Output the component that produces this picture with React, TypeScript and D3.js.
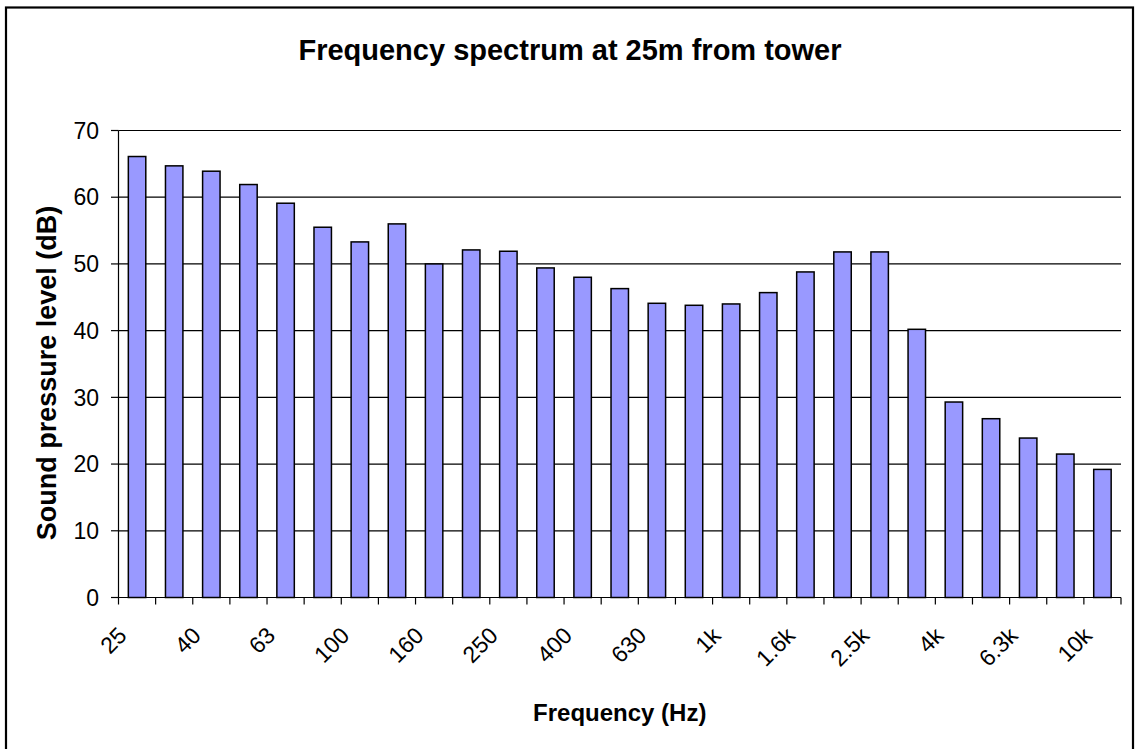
import * as d3 from "d3";

const bands = ["25", "31.5", "40", "50", "63", "80", "100", "125", "160", "200", "250", "315", "400", "500", "630", "800", "1k", "1.25k", "1.6k", "2k", "2.5k", "3.15k", "4k", "5k", "6.3k", "8k", "10k"];
const levels = [66.1, 64.7, 63.9, 61.9, 59.1, 55.5, 53.3, 56.0, 50.0, 52.1, 51.9, 49.4, 48.0, 46.3, 44.1, 43.8, 44.0, 45.7, 48.8, 51.8, 51.8, 40.2, 29.3, 26.8, 23.9, 21.5, 19.2];
const yTicks = [0, 10, 20, 30, 40, 50, 60, 70];

const W = 1136, H = 749;
const left = 118.5, right = 1121, top = 130.5, bottom = 597.5;
const font = "'Liberation Sans', Arial, sans-serif";

export default function App() {
  const x = d3.scaleBand<string>().domain(bands).range([left, right]).paddingInner(0.53).paddingOuter(0.265);
  const y = d3.scaleLinear().domain([0, 70]).range([bottom, top]);
  const step = x.step();
  const boundaries = d3.range(bands.length + 1).map((i) => left + i * step);

  return (
    <svg width={W} height={H} style={{ position: "absolute", left: 0, top: 0, background: "#fff" }} fontFamily={font}>
      <rect x={6} y={7.5} width={1127} height={750} fill="#fff" stroke="#000" strokeWidth={2.2} />
      <text x={570} y={60} textAnchor="middle" fontSize={29} fontWeight="bold">Frequency spectrum at 25m from tower</text>

      {/* gridlines */}
      {yTicks.filter((t) => t > 0).map((t) => (
        <line key={"g" + t} x1={left} x2={right} y1={y(t)} y2={y(t)} stroke="#000" strokeWidth={1.2} />
      ))}

      {/* y axis */}
      <line x1={left} x2={left} y1={top} y2={bottom} stroke="#000" strokeWidth={1.2} />
      {yTicks.map((t) => (
        <g key={"y" + t}>
          <line x1={left - 7.5} x2={left} y1={y(t)} y2={y(t)} stroke="#000" strokeWidth={1.2} />
          <text x={99} y={y(t)} dy="0.36em" textAnchor="end" fontSize={23}>{t}</text>
        </g>
      ))}

      {/* bars */}
      {bands.map((b, i) => (
        <rect key={b} x={x(b)} y={y(levels[i])} width={x.bandwidth()} height={y(0) - y(levels[i])}
          fill="#9999FF" stroke="#000" strokeWidth={1.5} />
      ))}

      {/* x axis */}
      <line x1={left} x2={right} y1={bottom} y2={bottom} stroke="#000" strokeWidth={1.2} />
      {boundaries.map((bx, i) => (
        <line key={"t" + i} x1={bx} x2={bx} y1={bottom} y2={bottom + 7} stroke="#000" strokeWidth={1.2} />
      ))}
      {bands.map((b, i) => i % 2 === 0 ? (
        <text key={"l" + b} transform={`translate(${(x(b) as number) + x.bandwidth() / 2 - 9},637) rotate(-45)`}
          textAnchor="end" fontSize={23}>{b}</text>
      ) : null)}

      <text x={(left + right) / 2} y={720.5} textAnchor="middle" fontSize={24} fontWeight="bold">Frequency (Hz)</text>
      <text transform="translate(56,373) rotate(-90)" textAnchor="middle" fontSize={27} fontWeight="bold">Sound pressure level (dB)</text>
    </svg>
  );
}
